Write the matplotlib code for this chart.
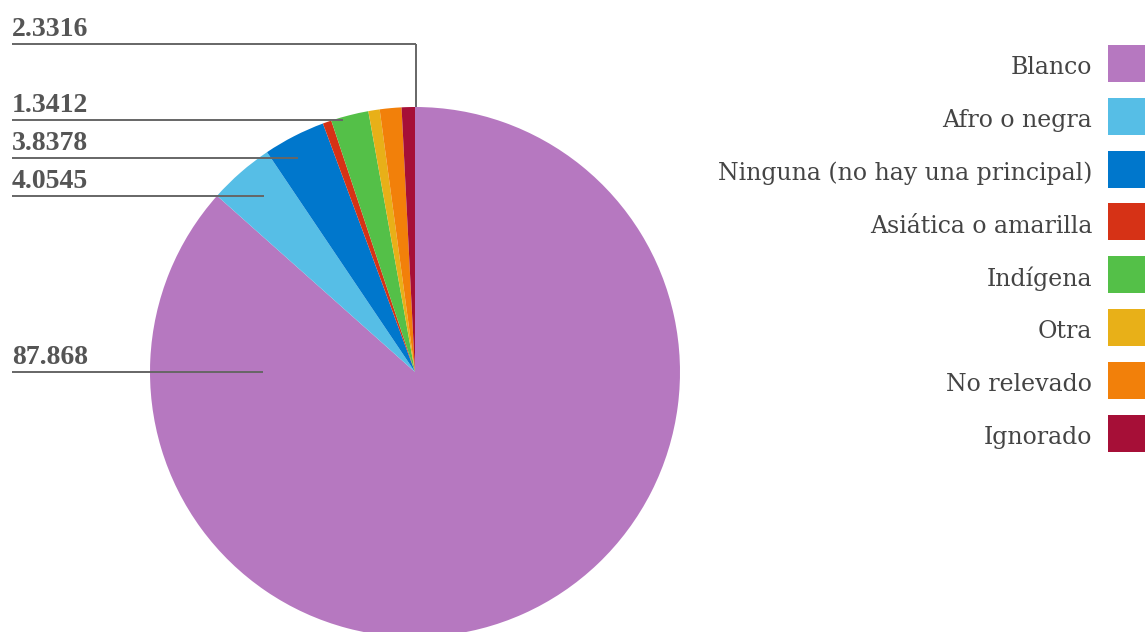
import matplotlib
matplotlib.use("Agg")
import matplotlib.pyplot as plt
from matplotlib.patches import Rectangle

# Données
categories = ["Blanco", "Afro o negra", "Ninguna (no hay una principal)",
              "Asiática o amarilla", "Indígena", "Otra", "No relevado", "Ignorado"]
values = [87.868, 4.0545, 3.8378, 0.54, 2.3316, 0.70, 1.3412, 0.82]
colors = ["#B678C0", "#56BEE6", "#0077CC", "#D63216",
          "#54C048", "#E8B018", "#F2800A", "#A60F37"]

W, H = 1147, 632
LABEL_FONT = "Liberation Serif"
LEGEND_FONT = "DejaVu Serif"

# Mise en page (pixels, origine en haut à gauche)
pie_center = (415, 372)
pie_radius = 265
# étiquette -> (ligne y, fin x, fin y)
leader = {
    0: (371.5, 263, 371.5),
    1: (195.5, 264, 195.5),
    2: (157.5, 298, 157.5),
    6: (120, 343, 120),
    4: (44, 415.5, 107),
}

fig = plt.figure(figsize=(W / 100, H / 100), dpi=100)
ax = fig.add_axes([0, 0, 1, 1])

ax.pie(values, colors=colors, startangle=90, counterclock=False,
       center=(pie_center[0], H - pie_center[1]), radius=pie_radius,
       wedgeprops=dict(linewidth=0))

# Étiquettes avec traits
for i, (ly, ex, ey) in leader.items():
    ax.plot([12, ex], [H - ly, H - ly], color="#666666", lw=1.4,
            solid_capstyle="butt", zorder=5)
    if ey != ly:
        ax.plot([ex, ex], [H - ly, H - ey], color="#666666", lw=1.4,
                solid_capstyle="butt", zorder=5)
    ax.text(12, H - ly + 7.5, f"{values[i]:g}", family=LABEL_FONT,
            fontweight="bold", fontsize=20, color="#555555",
            ha="left", va="baseline", zorder=6)

# Légende manuelle
sw, top0, step = 37, 45, 52.8
for k, (lab, col) in enumerate(zip(categories, colors)):
    top = top0 + k * step
    ax.add_patch(Rectangle((1108, H - top - sw), sw, sw, facecolor=col,
                           edgecolor="none", zorder=5))
    ax.text(1092, H - (top + sw / 2 + 11), lab, family=LEGEND_FONT,
            fontsize=17, color="#444444", ha="right", va="baseline")

ax.set_xlim(0, W)
ax.set_ylim(0, H)
ax.set_aspect("equal")
ax.axis("off")

fig.savefig("out.png", dpi=100)
